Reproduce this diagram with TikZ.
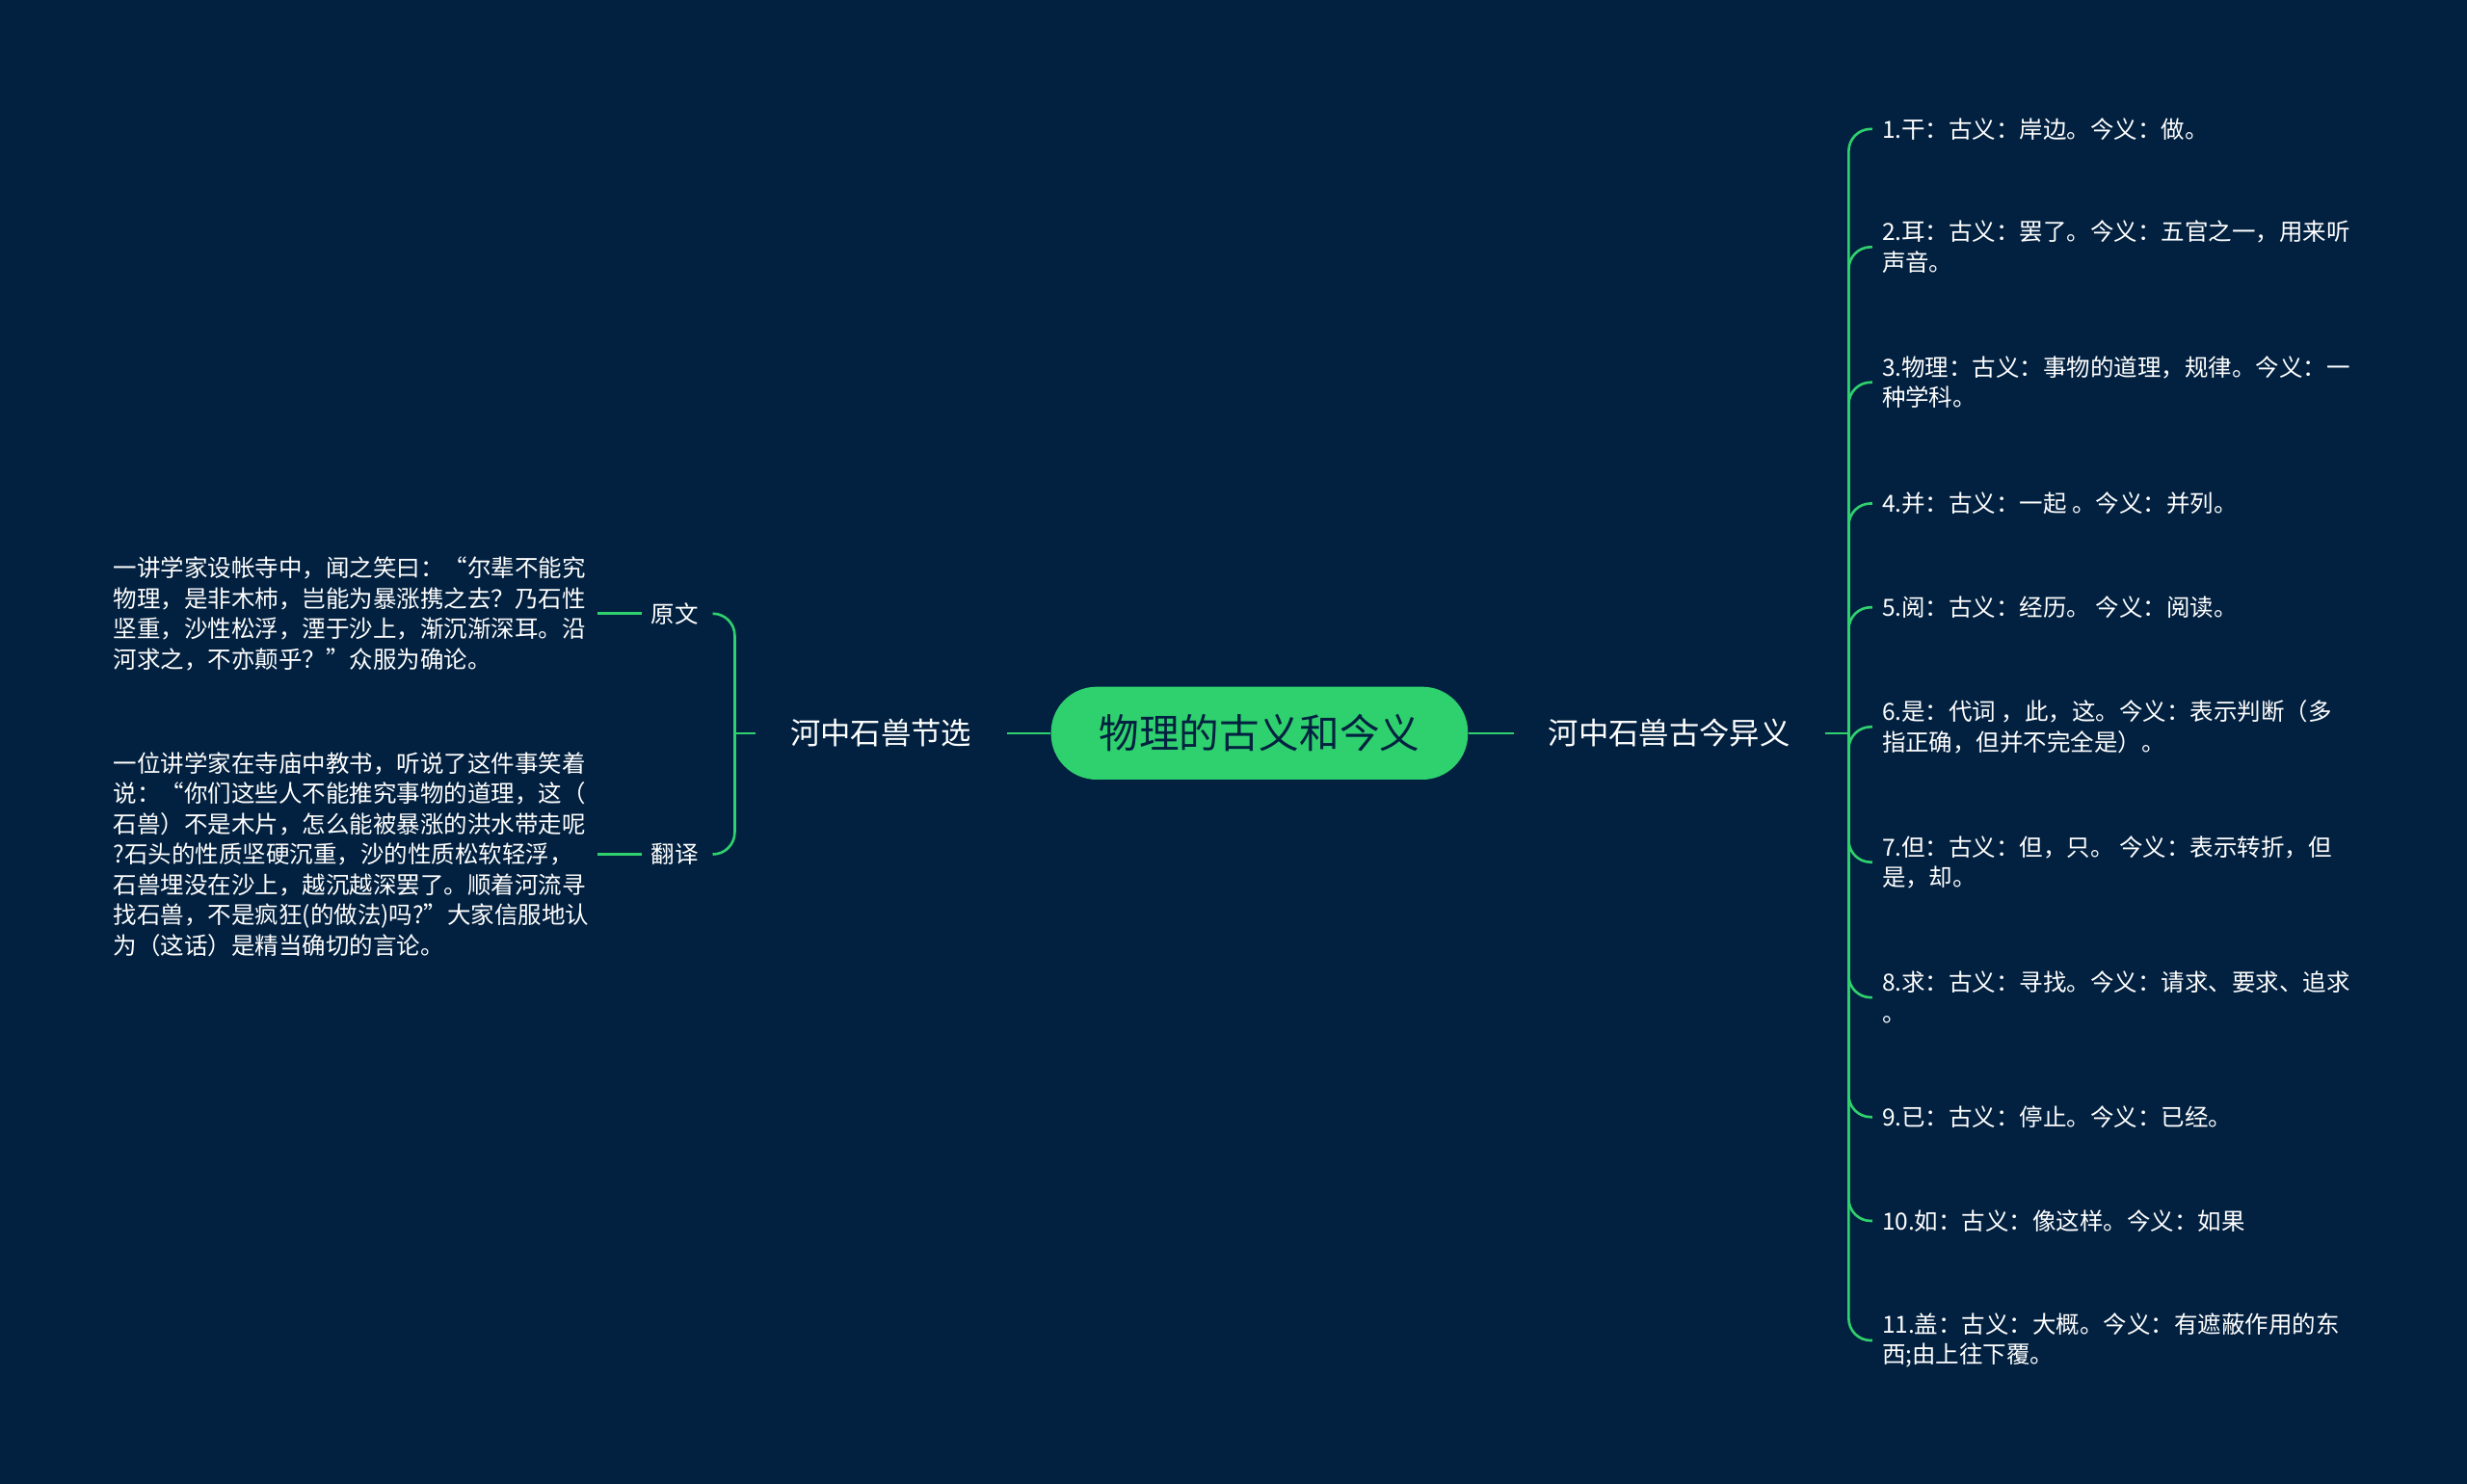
\documentclass[tikz,border=0pt]{standalone}
\usepackage{fontspec}
\setmainfont{Noto Sans CJK SC}
\definecolor{bg}{HTML}{022140}
\definecolor{gr}{HTML}{2FD16E}
\begin{document}
\begin{tikzpicture}[x=1pt,y=-1pt,
  txt/.style={text=white,font=\fontsize{15}{19.3}\selectfont,align=left,inner sep=0pt},
  br/.style={text=white,font=\fontsize{19.2}{22}\selectfont,inner sep=2pt},
  ln/.style={draw=gr,line width=1.6pt}]
\fill[bg] (0,0) rectangle (1568,943);
\useasboundingbox (0,0) rectangle (1568,943);
\node[fill=gr,rounded corners=29pt,minimum width=265pt,minimum height=59pt,text=bg,font=\fontsize{25.5}{28}\selectfont] (c) at (800.5,466) {物理的古义和今义};
\node[br] (L) at (560,466) {河中石兽节选};
\node[br] (R) at (1061,466) {河中石兽古今异义};
\draw[ln] (c.west) -- (640,466);
\draw[ln] (c.east) -- (962,466);
\coordinate (lh) at (480,466);
\coordinate (rh) at (1160,466);
\draw[ln] (lh) -- (467,466);
\draw[ln] (rh) -- (1175,466);
% left
\node[txt] (y) at (429,390) {原文};
\node[txt] (f) at (429,543) {翻译};
\draw[ln,rounded corners=14pt] (467,466) |- (453,390);
\draw[ln,rounded corners=14pt] (467,466) |- (453,543);
\draw[ln] (408,390) -- (380,390);
\draw[ln] (408,543) -- (380,543);
\node[txt,anchor=west] (p1) at (72,390) {一讲学家设帐寺中，闻之笑曰：“尔辈不能究\\物理，是非木杮，岂能为暴涨携之去？乃石性\\坚重，沙性松浮，湮于沙上，渐沉渐深耳。沿\\河求之，不亦颠乎？”众服为确论。};
\node[txt,anchor=west] (p2) at (72,543) {一位讲学家在寺庙中教书，听说了这件事笑着\\说：“你们这些人不能推究事物的道理，这（\\石兽）不是木片，怎么能被暴涨的洪水带走呢\\?石头的性质坚硬沉重，沙的性质松软轻浮，\\石兽埋没在沙上，越沉越深罢了。顺着河流寻\\找石兽，不是疯狂(的做法)吗?”大家信服地认\\为（这话）是精当确切的言论。};
% right
\foreach \y/\t [count=\i] in {
 82/{1.干：古义：岸边。今义：做。},
 157/{2.耳：古义：罢了。今义：五官之一，用来听\\声音。},
 243/{3.物理：古义：事物的道理，规律。今义：一\\种学科。},
 320/{4.并：古义：一起 。今义：并列。},
 386/{5.阅：古义：经历。 今义：阅读。},
 462/{6.是：代词 ，此，这。今义：表示判断（多\\指正确，但并不完全是）。},
 548/{7.但：古义：但，只。 今义：表示转折，但\\是，却。},
 634/{8.求：古义：寻找。今义：请求、要求、追求\\。},
 710/{9.已：古义：停止。今义：已经。},
 776/{10.如：古义：像这样。今义：如果},
 852/{11.盖：古义：大概。今义：有遮蔽作用的东\\西;由上往下覆。}}
{
  \node[txt,anchor=west] (r\i) at (1196,\y) {\t};
  \draw[ln,rounded corners=14pt] (1175,466) |- (1190,\y);
}
\end{tikzpicture}
\end{document}
